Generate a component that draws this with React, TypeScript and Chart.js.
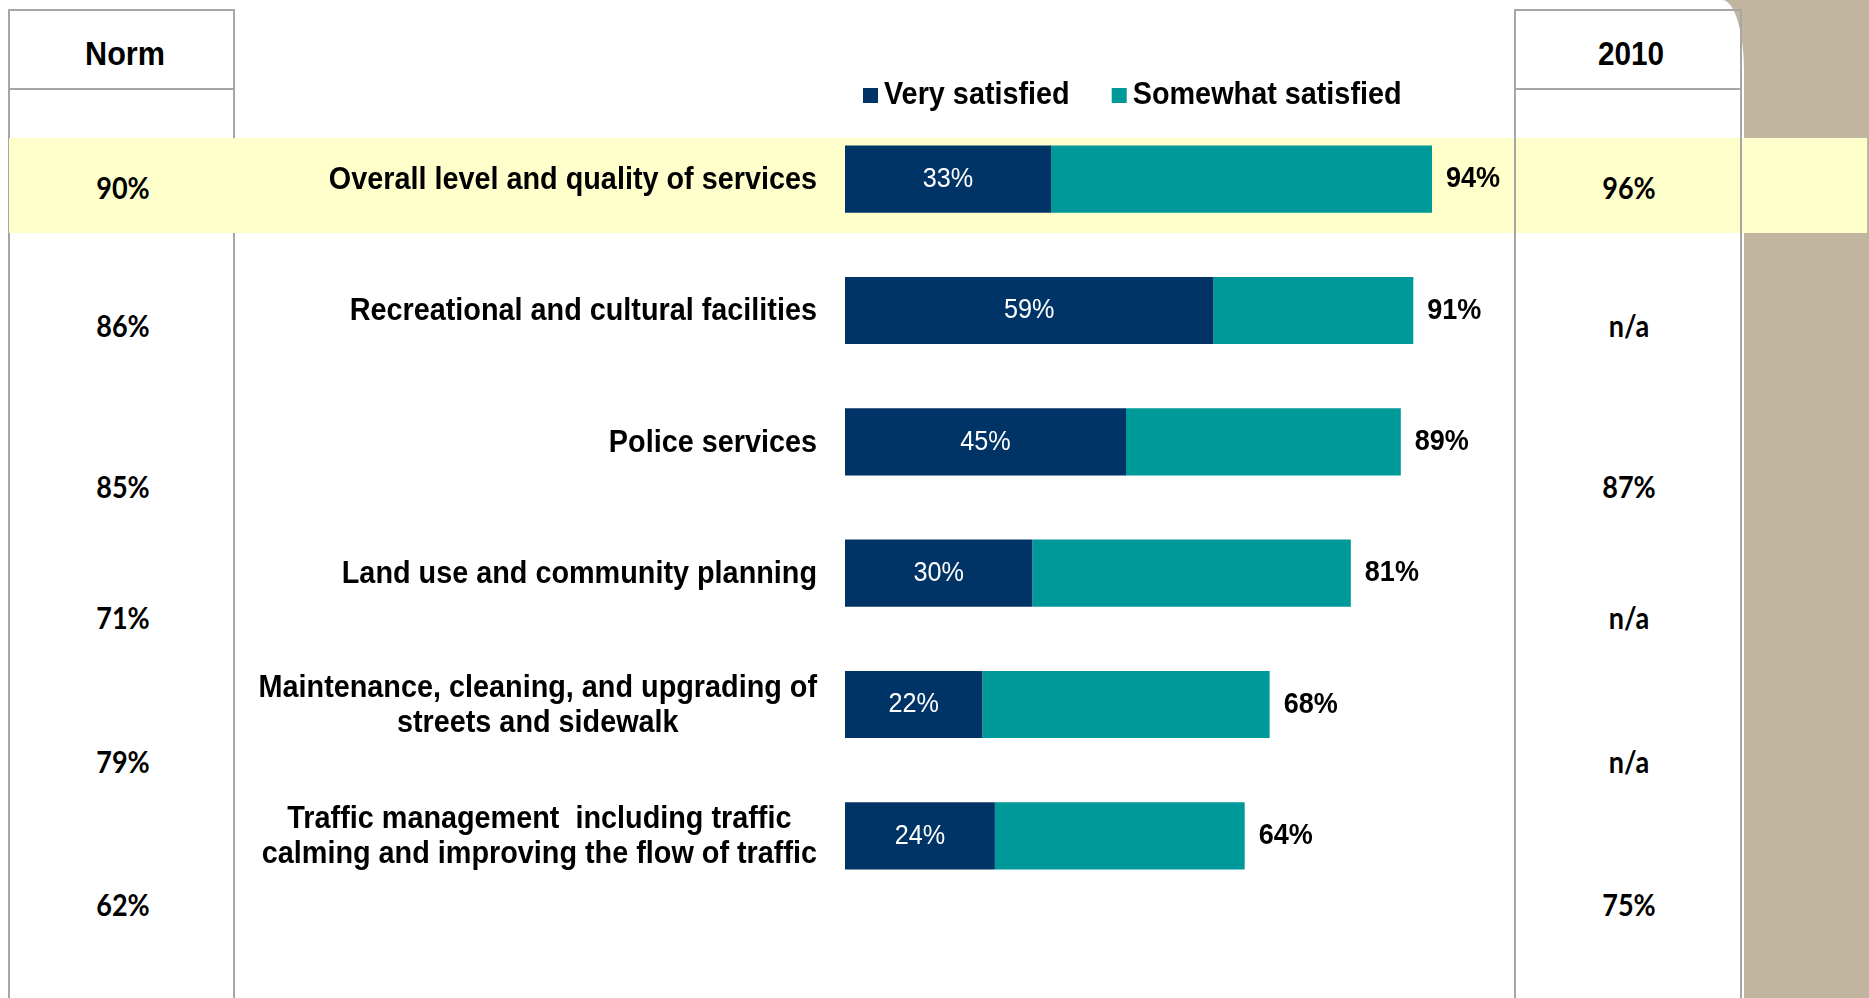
import React, { useEffect, useRef } from "react";
import { Chart, registerables } from "chart.js";

Chart.register(...registerables);

// ---------- data ----------
const categories: string[][] = [
  ["Overall level and quality of services"],
  ["Recreational and cultural facilities"],
  ["Police services"],
  ["Land use and community planning"],
  ["Maintenance, cleaning, and upgrading of", "streets and sidewalk"],
  ["Traffic management  including traffic", "calming and improving the flow of traffic"],
];
const seriesNames = ["Very satisfied", "Somewhat satisfied"];
const verySatisfied = [33, 59, 45, 30, 22, 24];
const somewhatSatisfied = [61, 32, 44, 51, 46, 40];
const totalSatisfied = [94, 91, 89, 81, 68, 64];
const normValues = ["90%", "86%", "85%", "71%", "79%", "62%"];
const values2010 = ["96%", "n/a", "87%", "n/a", "n/a", "75%"];
const sideHeaders = ["Norm", "2010"];

// ---------- layout / style ----------
const W = 1869;
const H = 998;
const NAVY = "#003366";
const TEAL = "#009999";
const BAND = "#FFFFCC";
const BROWN = "#C1B59F";
const GRID = "#A6A6A6";
const ARIAL = "'Liberation Sans', Arial, Helvetica, sans-serif";
const SX = 0.9; // horizontal squeeze of the original text
const SIDE_ROW_Y = [187, 325, 486, 617, 761, 904];
const NORM_CX = 123;
const Y2010_CX = 1629;

function drawText(ctx: CanvasRenderingContext2D, text: string, x: number, y: number, align: CanvasTextAlign) {
  ctx.save();
  ctx.translate(x, y);
  ctx.scale(SX, 1);
  ctx.textAlign = align;
  ctx.fillText(text, 0, 0);
  ctx.restore();
}

const overlayPlugin = {
  id: "overlay",
  afterDatasetsDraw(chart: any) {
    const ctx: CanvasRenderingContext2D = chart.ctx;
    const yScale = chart.scales.y;
    const area = chart.chartArea;
    ctx.save();
    ctx.textBaseline = "middle";

    // category labels (right edge block, lines centred inside block)
    ctx.font = `bold 32px ${ARIAL}`;
    ctx.fillStyle = "#000";
    const labelRight = area.left - 28;
    const lineH = 34.5;
    (chart.data.labels as string[][]).forEach((lines, i) => {
      const yc = yScale.getPixelForValue(i);
      const bw = Math.max(...lines.map((l) => ctx.measureText(l).width)) * SX;
      const cx = labelRight - bw / 2;
      lines.forEach((l, k) => {
        drawText(ctx, l, cx, yc + 1 + (k - (lines.length - 1) / 2) * lineH, "center");
      });
    });

    // values inside dark segment
    const m0 = chart.getDatasetMeta(0);
    ctx.font = `28px ${ARIAL}`;
    ctx.fillStyle = "#fff";
    m0.data.forEach((el: any, i: number) => {
      const p = el.getProps(["x", "base", "y"], true);
      drawText(ctx, `${verySatisfied[i]}%`, (p.x + p.base) / 2, p.y, "center");
    });

    // totals at bar end
    const m1 = chart.getDatasetMeta(1);
    ctx.font = `bold 30px ${ARIAL}`;
    ctx.fillStyle = "#000";
    m1.data.forEach((el: any, i: number) => {
      const p = el.getProps(["x", "y"], true);
      drawText(ctx, `${totalSatisfied[i]}%`, p.x + 14, p.y, "left");
    });

    // legend
    ctx.font = `bold 32px ${ARIAL}`;
    let lx = 863;
    const ly = 95;
    chart.data.datasets.forEach((ds: any) => {
      ctx.fillStyle = ds.backgroundColor;
      ctx.fillRect(lx, ly - 7, 15, 15);
      ctx.fillStyle = "#000";
      drawText(ctx, ds.label, lx + 21, ly, "left");
      lx += 21 + ctx.measureText(ds.label).width * SX + 42;
    });
    ctx.restore();
  },
};

const cellText = (text: string, cx: number, cy: number, font: string, size: number, key: string) => (
  <div
    key={key}
    style={{
      position: "absolute",
      left: cx,
      top: cy,
      transform: `translate(-50%, -50%) scaleX(${SX})`,
      fontFamily: font,
      fontWeight: 700,
      fontSize: size,
      lineHeight: 1,
      whiteSpace: "nowrap",
      color: "#000",
    }}
  >
    {text}
  </div>
);

const boxStyle = (left: number, width: number): React.CSSProperties => ({
  position: "absolute",
  left,
  top: 9,
  width,
  height: 1200,
  border: `2px solid ${GRID}`,
  boxSizing: "border-box",
});

export default function App() {
  const canvasRef = useRef<HTMLCanvasElement | null>(null);

  useEffect(() => {
    const canvas = canvasRef.current;
    if (!canvas) return;
    const chart = new Chart(canvas, {
      type: "bar",
      data: {
        labels: categories as any,
        datasets: [
          {
            label: seriesNames[0],
            data: verySatisfied,
            backgroundColor: NAVY,
            borderWidth: 0,
            barPercentage: 0.512,
            categoryPercentage: 1,
          },
          {
            label: seriesNames[1],
            data: somewhatSatisfied,
            backgroundColor: TEAL,
            borderWidth: 0,
            barPercentage: 0.512,
            categoryPercentage: 1,
          },
        ],
      },
      options: {
        indexAxis: "y",
        responsive: false,
        animation: false,
        devicePixelRatio: 1,
        layout: { padding: { left: 845, right: 399.5, top: 113.5, bottom: 96.5 } },
        scales: {
          x: { stacked: true, min: 0, max: 100, display: false },
          y: { stacked: true, display: false },
        },
        plugins: {
          legend: { display: false },
          tooltip: { enabled: false },
        },
      },
      plugins: [overlayPlugin],
    });
    return () => chart.destroy();
  }, []);

  return (
    <div
      style={{
        position: "fixed",
        left: 0,
        top: 0,
        width: W,
        height: H,
        overflow: "hidden",
        background: BROWN,
      }}
    >
      {/* white page with rounded top-right edge */}
      <div
        style={{
          position: "absolute",
          left: 0,
          top: 0,
          width: 1744,
          height: H,
          background: "#fff",
          borderTopRightRadius: "22px 70px",
        }}
      />
      {/* Norm box (under band) */}
      <div style={boxStyle(8, 227)} />
      <div style={{ position: "absolute", left: 8, top: 88, width: 227, height: 2, background: GRID }} />
      {/* highlight band */}
      <div style={{ position: "absolute", left: 9, top: 138, width: 1858, height: 95, background: BAND }} />
      {/* 2010 box (over band) */}
      <div style={boxStyle(1514, 228)} />
      <div style={{ position: "absolute", left: 1514, top: 88, width: 228, height: 2, background: GRID }} />

      {cellText(sideHeaders[0], NORM_CX + 2, 53, ARIAL, 34, "hn")}
      {cellText(sideHeaders[1], Y2010_CX + 2, 53, ARIAL, 33, "h2")}
      {normValues.map((v, i) => cellText(v, NORM_CX, SIDE_ROW_Y[i], "Lato, 'Open Sans', sans-serif", 30, `n${i}`))}
      {values2010.map((v, i) => cellText(v, Y2010_CX, SIDE_ROW_Y[i], "Lato, 'Open Sans', sans-serif", 30, `t${i}`))}

      <canvas
        ref={canvasRef}
        width={W}
        height={H}
        style={{ position: "absolute", left: 0, top: 0, width: W, height: H }}
      />
    </div>
  );
}
